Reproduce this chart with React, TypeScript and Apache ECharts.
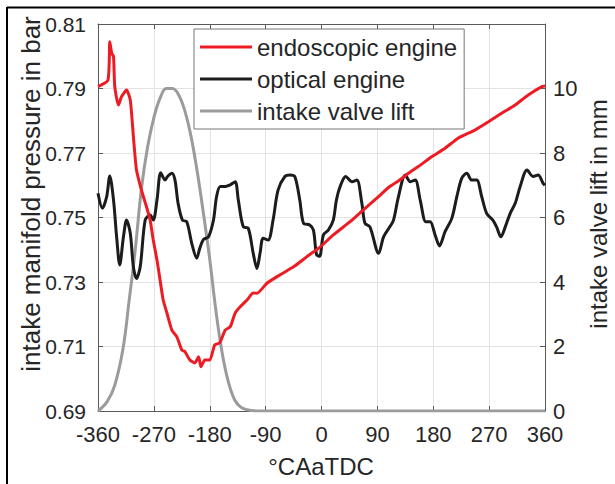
import React, { useEffect, useRef } from "react";
import * as echarts from "echarts";

const xTicks = [-360, -270, -180, -90, 0, 90, 180, 270, 360];
const leftTicks = [0.69, 0.71, 0.73, 0.75, 0.77, 0.79, 0.81];
const rightTicks = [0, 2, 4, 6, 8, 10];

const seriesNames = ["endoscopic engine", "optical engine", "intake valve lift"];

const redDeg = [-360, -344, -341, -338, -335, -333, -327, -322, -314, -308, -303, -298, -290, -282, -276, -271, -265, -260, -255, -249, -241, -233, -225, -220, -212, -204, -198, -194, -188, -180, -172, -164, -155, -147, -139, -131, -120, -110, -104, -88, -67, -45, -24, -2, 19, 46, 67, 89, 110, 126, 140, 156, 178, 199, 220, 247, 269, 290, 312, 333, 355, 360];
const redVal = [0.7906, 0.7926, 0.8045, 0.8010, 0.7999, 0.7906, 0.7849, 0.7875, 0.7895, 0.7864, 0.7751, 0.7647, 0.7585, 0.7534, 0.7492, 0.7430, 0.7368, 0.7306, 0.7244, 0.7204, 0.7151, 0.7130, 0.7089, 0.7084, 0.7058, 0.7049, 0.7068, 0.7037, 0.7058, 0.7058, 0.7105, 0.7111, 0.7151, 0.7161, 0.7204, 0.7223, 0.7244, 0.7266, 0.7265, 0.7296, 0.7322, 0.7347, 0.7378, 0.7409, 0.7446, 0.7487, 0.7523, 0.7560, 0.7596, 0.7616, 0.7637, 0.7658, 0.7689, 0.7715, 0.7746, 0.7771, 0.7797, 0.7823, 0.7849, 0.7880, 0.7906, 0.7908];

const blackDeg = [-360, -353, -346, -341, -335, -330, -325, -319, -314, -308, -303, -298, -292, -284, -276, -271, -265, -259, -252, -248, -241, -236, -231, -224, -217, -209, -201, -196, -190, -182, -174, -169, -163, -155, -147, -139, -134, -126, -118, -110, -104, -99, -94, -86, -78, -70, -59, -51, -43, -35, -29, -19, -13, -8, -3, 3, 11, 19, 24, 30, 39, 49, 57, 65, 70, 78, 92, 100, 110, 116, 124, 135, 143, 151, 159, 168, 175, 183, 190, 199, 210, 218, 226, 234, 242, 250, 258, 266, 276, 282, 289, 296, 304, 312, 320, 331, 341, 349, 357, 360];
const blackVal = [0.7575, 0.7529, 0.7565, 0.7629, 0.7554, 0.7440, 0.7353, 0.7440, 0.7492, 0.7451, 0.7347, 0.7311, 0.7347, 0.7492, 0.7508, 0.7492, 0.7554, 0.7639, 0.7616, 0.7627, 0.7637, 0.7616, 0.7544, 0.7492, 0.7487, 0.7420, 0.7374, 0.7405, 0.7432, 0.7440, 0.7492, 0.7565, 0.7596, 0.7596, 0.7601, 0.7611, 0.7554, 0.7471, 0.7467, 0.7389, 0.7342, 0.7389, 0.7436, 0.7430, 0.7492, 0.7585, 0.7627, 0.7632, 0.7627, 0.7554, 0.7482, 0.7477, 0.7461, 0.7385, 0.7380, 0.7446, 0.7461, 0.7492, 0.7554, 0.7596, 0.7627, 0.7611, 0.7616, 0.7544, 0.7482, 0.7471, 0.7389, 0.7440, 0.7471, 0.7492, 0.7565, 0.7632, 0.7611, 0.7616, 0.7554, 0.7487, 0.7487, 0.7446, 0.7412, 0.7456, 0.7498, 0.7565, 0.7622, 0.7637, 0.7616, 0.7616, 0.7565, 0.7513, 0.7492, 0.7471, 0.7440, 0.7471, 0.7513, 0.7544, 0.7596, 0.7647, 0.7627, 0.7632, 0.7606, 0.7600];

const liftDeg = [-360, -345, -333, -320, -310, -300, -290, -280, -270, -260, -250, -240, -230, -220, -210, -200, -190, -180, -170, -160, -150, -140, -130, -120, -100, 360];
const liftVal = [0, 0.3, 0.8, 1.9, 3.4, 5.0, 6.9, 8.2, 9.1, 9.7, 10.0, 10.0, 9.8, 9.3, 8.5, 7.4, 6.1, 4.7, 3.1, 1.8, 0.9, 0.35, 0.12, 0.04, 0, 0];

const zip = (a: number[], b: number[]) => a.map((x, i) => [x, b[i]]);

const FONT = "'Liberation Sans', Arial, sans-serif";
const TXT = "#262626";
const AX = "#5a5a5a";
const GRIDC = "#e3e3e3";

export default function App() {
  const ref = useRef<HTMLDivElement>(null);
  useEffect(() => {
    document.body.style.margin = "0";
    const chart = echarts.init(ref.current!, null, { renderer: "svg" });
    const axisCommon = {
      axisLine: { show: true, onZero: false, lineStyle: { color: AX, width: 1 } },
      axisTick: { show: true, inside: true, length: 5, lineStyle: { color: AX } },
    };
    chart.setOption({
      animation: false,
      backgroundColor: "#fff",
      textStyle: { fontFamily: FONT },
      grid: { left: 98, right: 70, top: 24, bottom: 73, containLabel: false },
      legend: {
        data: seriesNames,
        orient: "vertical",
        left: 194,
        top: 29,
        padding: [6, 7, 6, 6],
        itemWidth: 52,
        itemHeight: 3,
        itemGap: 8,
        icon: "rect",
        backgroundColor: "#fff",
        borderColor: "#777",
        borderWidth: 1,
        borderRadius: 0,
        textStyle: { fontSize: 24, color: TXT, fontFamily: FONT, lineHeight: 24 },
      },
      xAxis: [
        {
          type: "value",
          position: "bottom",
          min: -360,
          max: 360,
          interval: 90,
          ...axisCommon,
          splitLine: { show: true, lineStyle: { color: GRIDC, width: 1 } },
          axisLabel: {
            fontSize: 22,
            color: TXT,
            margin: 12,
            fontFamily: FONT,
            formatter: (v: number) => (xTicks.includes(v) ? String(v) : ""),
          },
        },
        {
          type: "value",
          position: "top",
          min: -360,
          max: 360,
          interval: 90,
          ...axisCommon,
          splitLine: { show: false },
          axisLabel: { show: false },
        },
      ],
      yAxis: [
        {
          type: "value",
          position: "left",
          min: 0.69,
          max: 0.81,
          interval: 0.02,
          ...axisCommon,
          splitLine: { show: true, lineStyle: { color: GRIDC, width: 1 } },
          axisLabel: {
            fontSize: 21,
            color: TXT,
            margin: 12,
            fontFamily: FONT,
            formatter: (v: number) => {
              const s = v.toFixed(2);
              return leftTicks.some((t) => t.toFixed(2) === s) ? s : "";
            },
          },
        },
        {
          type: "value",
          position: "right",
          min: 0,
          max: 12,
          interval: 2,
          ...axisCommon,
          splitLine: { show: false },
          axisLabel: {
            fontSize: 22,
            color: TXT,
            margin: 8,
            fontFamily: FONT,
            formatter: (v: number) => (rightTicks.includes(v) ? String(v) : ""),
          },
        },
      ],
      series: [
        {
          name: seriesNames[2],
          type: "line",
          xAxisIndex: 0,
          yAxisIndex: 1,
          data: zip(liftDeg, liftVal),
          showSymbol: false,
          smooth: 0.4,
          lineStyle: { color: "#9b9b9b", width: 3 },
          itemStyle: { color: "#9b9b9b" },
          z: 2,
        },
        {
          name: seriesNames[1],
          type: "line",
          xAxisIndex: 0,
          yAxisIndex: 0,
          data: zip(blackDeg, blackVal),
          showSymbol: false,
          smooth: 0.3,
          lineStyle: { color: "#1c1c1c", width: 3 },
          itemStyle: { color: "#1c1c1c" },
          z: 3,
        },
        {
          name: seriesNames[0],
          type: "line",
          xAxisIndex: 0,
          yAxisIndex: 0,
          data: zip(redDeg, redVal),
          showSymbol: false,
          smooth: 0.2,
          lineStyle: { color: "#ed1c24", width: 3 },
          itemStyle: { color: "#ed1c24" },
          z: 4,
        },
      ],
      graphic: [
        {
          type: "text",
          x: 31,
          y: 194,
          rotation: Math.PI / 2,
          style: {
            text: "intake manifold pressure in bar",
            fontSize: 26,
            fontFamily: FONT,
            fill: TXT,
            align: "center",
            verticalAlign: "middle",
          },
        },
        {
          type: "text",
          x: 598,
          y: 214,
          rotation: Math.PI / 2,
          style: {
            text: "intake valve lift in mm",
            fontSize: 24,
            fontFamily: FONT,
            fill: TXT,
            align: "center",
            verticalAlign: "middle",
          },
        },
        {
          type: "text",
          x: 321,
          y: 466,
          style: {
            text: "°CAaTDC",
            fontSize: 24,
            fontFamily: FONT,
            fill: TXT,
            align: "center",
            verticalAlign: "middle",
          },
        },
        {
          type: "line",
          shape: { x1: 7, y1: 7.5, x2: 615, y2: 7.5 },
          style: { stroke: "#000", lineWidth: 2 },
        },
        {
          type: "line",
          shape: { x1: 7, y1: 7, x2: 7, y2: 484 },
          style: { stroke: "#000", lineWidth: 2 },
        },
      ],
    });
    return () => chart.dispose();
  }, []);
  return <div ref={ref} style={{ width: 615, height: 484 }} />;
}
